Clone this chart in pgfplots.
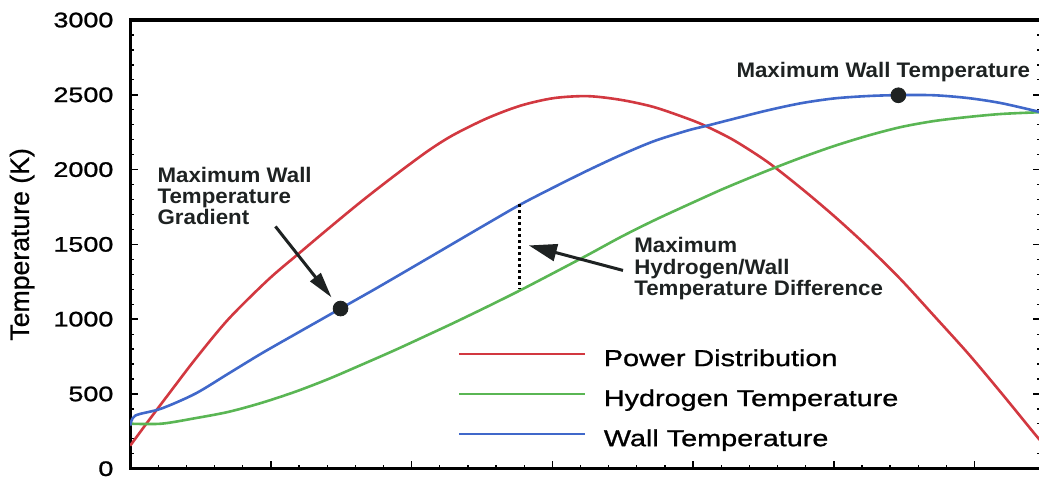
\documentclass[border=0pt]{standalone}
\usepackage{fontspec}
\setmainfont{Liberation Sans}[FakeBold=0.6]
\newfontfamily\tickfont{Liberation Sans}[FakeStretch=1.28, FakeBold=1.2]
\newfontfamily\legfont{Liberation Sans}[FakeStretch=1.25, FakeBold=1.0]
\newfontfamily\labfont{Liberation Sans}[FakeBold=0.8]
\newfontfamily\annfont{Liberation Sans}[FakeStretch=1.06]
\usepackage{pgfplots}
\pgfplotsset{compat=1.18}
\usetikzlibrary{arrows.meta}
\definecolor{cred}{RGB}{210,56,64}
\definecolor{cgreen}{RGB}{90,182,84}
\definecolor{cblue}{RGB}{64,104,202}
\definecolor{cdot}{RGB}{30,34,34}

\pgfplotstableread{
x y
0.000 154
0.128 318
0.270 495
0.463 733
0.698 1000
0.982 1265
1.196 1437
1.409 1606
1.644 1788
1.886 1965
2.121 2128
2.299 2233
2.541 2345
2.776 2428
3.011 2478
3.253 2491
3.488 2466
3.722 2418
3.964 2340
4.093 2290
4.292 2195
4.534 2048
4.769 1875
5.004 1688
5.246 1480
5.480 1262
5.715 1020
5.957 768
6.192 505
6.427 234
6.470 187
}\powertable

\pgfplotstableread{
x y
0.000 301
0.221 301
0.463 338
0.698 380
0.932 440
1.174 515
1.409 600
1.644 695
1.886 795
2.121 897
2.299 975
2.541 1085
2.776 1195
3.011 1310
3.253 1430
3.488 1550
3.722 1660
3.964 1765
4.199 1865
4.292 1902
4.534 1995
4.769 2080
5.004 2158
5.246 2228
5.480 2285
5.715 2325
5.957 2352
6.192 2372
6.470 2384
}\hydtable

\pgfplotstableread{
x y
0.000 288
0.036 355
0.221 402
0.463 502
0.698 636
0.932 770
1.174 900
1.495 1071
1.765 1215
2.121 1410
2.299 1508
2.541 1641
2.776 1768
3.011 1882
3.253 1995
3.488 2098
3.722 2190
3.964 2262
4.093 2292
4.292 2340
4.534 2397
4.769 2444
5.004 2476
5.246 2492
5.466 2498
5.715 2497
5.957 2478
6.192 2444
6.470 2384
}\walltable

\begin{document}
\begin{tikzpicture}
\begin{axis}[
  name=ax,
  scale only axis,
  width=454.5pt, height=224pt,
  xmin=0, xmax=6.47, ymin=0, ymax=3000,
  axis line style={line width=1.6pt},
  xtick={0,1,2,3,4,5,6}, xticklabels={}, minor x tick num=4,
  xtick pos=left,
  ytick={0,500,1000,1500,2000,2500,3000},
  yticklabels={0,500,1000,1500,2000,2500,3000},
  minor y tick num=4,
  ytick pos=both,
  tick align=inside,
  major tick length=4pt, minor tick length=2pt,
  tick style={black, line width=0.8pt},
  minor tick style={line width=0.6pt},
  yticklabel style={font=\tickfont\fontsize{10.5}{12}\selectfont, inner sep=0pt, anchor=east, xshift=-8.2pt},
  ylabel={Temperature (K)},
  ylabel style={at={(rel axis cs:0,0.5)}, anchor=center, yshift=54pt, font=\labfont\fontsize{13.3}{15}\selectfont},
  legend style={at={(axis cs:2.327,803)}, anchor=north west, draw=none, fill=none, inner sep=0pt,
    row sep=9pt, column sep=9pt,
    font=\legfont\fontsize{11.5}{13}\selectfont,
    nodes={inner sep=0pt, text height=8.5pt, text depth=2.5pt}},
  legend cell align=left,
  legend image code/.code={\draw[#1] (0pt,3pt) -- (62.5pt,3pt);},
]
\addplot[cred, line width=1.3pt, smooth, tension=0.5] table[x=x,y=y] {\powertable};
\addlegendentry{Power Distribution}
\addplot[cgreen, line width=1.3pt, smooth, tension=0.5] table[x=x,y=y] {\hydtable};
\addlegendentry{Hydrogen Temperature}
\addplot[cblue, line width=1.3pt, smooth, tension=0.5] table[x=x,y=y] {\walltable};
\addlegendentry{Wall Temperature}

\draw[black, line width=1.5pt, dash pattern=on 1.5pt off 1.5pt] (axis cs:2.769,1768) -- (axis cs:2.769,1200);
\draw[cdot, line width=1.5pt, -{Triangle[length=13pt,width=6.5pt]}] (axis cs:1.032,1620) -- (axis cs:1.431,1145);
\draw[cdot, line width=1.5pt, -{Triangle[length=14pt,width=8.5pt]}] (axis cs:3.502,1326) -- (axis cs:2.833,1493);

\addplot[only marks, mark=*, mark size=3.7pt, cdot, forget plot] coordinates {(1.495,1071) (5.459,2497)};

\node[anchor=north west, inner sep=0pt, align=left, text=cdot, font=\annfont\bfseries\fontsize{10.5}{10.5}\selectfont]
  at (axis cs:0.192,2016) {Maximum Wall\\Temperature\\Gradient};
\node[anchor=north west, inner sep=0pt, align=left, text=cdot, font=\annfont\bfseries\fontsize{10.5}{10.5}\selectfont]
  at (axis cs:3.580,1547) {Maximum\\Hydrogen/Wall\\Temperature Difference};
\node[anchor=north west, inner sep=0pt, align=left, text=cdot, font=\annfont\bfseries\fontsize{10.5}{10.5}\selectfont]
  at (axis cs:4.306,2719) {Maximum Wall Temperature};
\end{axis}
\pgfresetboundingbox
\path[use as bounding box] ([xshift=-65pt,yshift=-4.5pt]ax.south west) rectangle ([xshift=-0.8pt,yshift=10pt]ax.north east);
\end{tikzpicture}
\end{document}
